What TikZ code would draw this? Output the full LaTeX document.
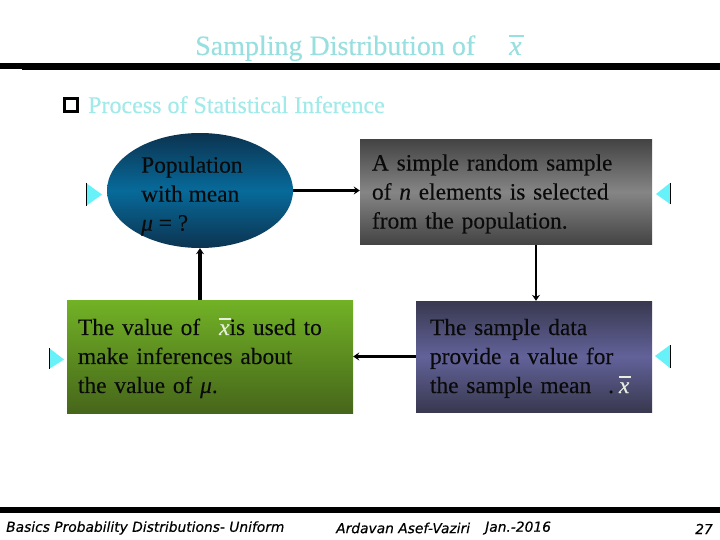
\documentclass[tikz,border=0pt]{standalone}
\usepackage{fontspec}
\setmainfont[FakeBold=0.15]{Liberation Serif}
\newfontfamily\footfont[FakeBold=0.35]{DejaVu Sans}
\usetikzlibrary{shapes.geometric,arrows.meta}
\definecolor{titlecol}{HTML}{98E0E0}
\definecolor{bulletcol}{HTML}{A0EAEA}
\definecolor{tricol}{HTML}{66F2F8}
\definecolor{barcol}{HTML}{E6EEDD}
\definecolor{inkcol}{HTML}{0A0A0A}
\definecolor{blueedge}{HTML}{0C3350}
\definecolor{bluemid}{HTML}{076A9A}
\definecolor{greyedge}{HTML}{434343}
\definecolor{greymid}{HTML}{858585}
\definecolor{greentop}{HTML}{72B226}
\definecolor{greenbot}{HTML}{46661A}
\definecolor{purpleedge}{HTML}{38384F}
\definecolor{purplemid}{HTML}{62629A}
\pgfdeclareverticalshading{blueshade}{100bp}{color(0bp)=(blueedge); color(25bp)=(blueedge); color(50bp)=(bluemid); color(75bp)=(blueedge); color(100bp)=(blueedge)}
\pgfdeclareverticalshading{greyshade}{100bp}{color(0bp)=(greyedge); color(25bp)=(greyedge); color(50bp)=(greymid); color(75bp)=(greyedge); color(100bp)=(greyedge)}
\pgfdeclareverticalshading{greenshade}{100bp}{color(0bp)=(greenbot); color(25bp)=(greenbot); color(75bp)=(greentop); color(100bp)=(greentop)}
\pgfdeclareverticalshading{purpleshade}{100bp}{color(0bp)=(purpleedge); color(25bp)=(purpleedge); color(50bp)=(purplemid); color(75bp)=(purpleedge); color(100bp)=(purpleedge)}
\tikzset{
  x=1pt,y=-1pt,
  bodytext/.style={font=\fontsize{23.4}{29}\selectfont,text=inkcol,align=left,inner sep=0pt},
  flowbox/.style={bodytext,rectangle,minimum height=10pt,anchor=center},
  link/.style={line width=3pt,draw=black,-{Stealth[length=6pt,width=8pt]}},
  foot/.style={font=\footfont\itshape\fontsize{13.8}{16}\selectfont,text=black,inner sep=0pt,anchor=west},
  tri/.style={fill=tricol,draw=none},
  triedge/.style={draw=black,line width=1pt}
}
\newcommand{\xbar}{\leavevmode\rlap{\rule[0.66em]{0.52em}{0.06em}}\textit{x}}
\begin{document}
\begin{tikzpicture}
\useasboundingbox (0,0) rectangle (720,540);
\fill[white] (0,0) rectangle (720,540);
% rules
\fill[black] (0,63) rectangle (22,69);
\fill[black] (22,63) rectangle (720,70);
\fill[black] (0,507) rectangle (720,513);
% title
\node[font=\fontsize{28}{32}\selectfont,text=titlecol,inner sep=0pt,anchor=base west] (title) at (195,55) {Sampling Distribution of};
\node[font=\fontsize{28}{32}\selectfont,text=titlecol,inner sep=0pt,anchor=base west] (titlex) at (509,55) {\xbar};
% bullet
\node[draw=black,line width=3pt,minimum size=13pt,inner sep=0pt] (bullet) at (71,105) {};
\node[font=\fontsize{24}{28}\selectfont,text=bulletcol,inner sep=0pt,anchor=base west] (sub) at (88,113) {Process of Statistical Inference};
% shapes
\node[ellipse,minimum width=186pt,minimum height=115pt,inner sep=0pt,shading=blueshade] (pop) at (200,190.5) {};
\node[bodytext,anchor=west] (poptext) at (141,196) {Population\\with mean\\\textit{μ} = ?};
\node[flowbox,shading=greyshade,minimum width=292pt,minimum height=105.6pt,text width=268pt] (sample) at (506,192) {\rule{0pt}{20pt}A simple random sample\\of \textit{n} elements is selected\\from the population.};
\node[flowbox,shading=purpleshade,minimum width=236pt,minimum height=111pt,text width=208pt] (data) at (534,356.5) {\rule{0pt}{20pt}The sample data\\provide a value for\\the sample mean\hspace{17pt}.\hspace{5pt}\textcolor{barcol}{\xbar}};
\node[flowbox,shading=greenshade,minimum width=286pt,minimum height=113pt,text width=264pt] (infer) at (210,356.5) {\rule{0pt}{20pt}The value of\hspace{19pt}\textcolor{barcol}{\xbar}is used to\\make inferences about\\the value of \textit{μ}.};
% connectors
\draw[link] (pop.east) -- (sample.west |- pop.east);
\draw[link,line width=2.2pt] ([xshift=30pt]sample.south) -- ([xshift=2pt]data.north);
\draw[link] (data.west) -- (infer.east |- data.west);
\draw[link,line width=3.6pt] (infer.north -| pop.south) -- (pop.south);
% triangles
\fill[tri] (86,183) -- (102,194.5) -- (86,206) -- cycle;
\draw[triedge] (86.5,183) -- (86.5,206);
\fill[tri] (49,348) -- (64,359.5) -- (49,369) -- cycle;
\draw[triedge] (49.5,348) -- (49.5,369);
\fill[tri] (670,183) -- (656,194) -- (670,204) -- cycle;
\draw[triedge] (670,183) -- (670,204);
\fill[tri] (670,345) -- (655,356) -- (670,368) -- cycle;
\draw[triedge] (670,345) -- (670,368);
% footer
\node[foot] (f1) at (6,528) {Basics Probability Distributions- Uniform};
\node[foot] (f2) at (336,528) {Ardavan Asef-Vaziri};
\node[foot] (f3) at (485,528) {Jan.-2016};
\node[foot] (f4) at (695,529) {27};
\end{tikzpicture}
\end{document}
